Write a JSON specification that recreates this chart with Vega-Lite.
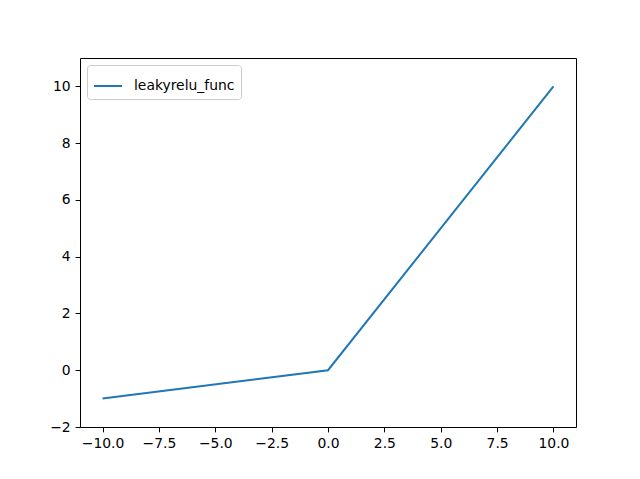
{
  "$schema": "https://vega.github.io/schema/vega-lite/v6.json",
  "width": 496,
  "height": 369,
  "autosize": {"type": "none"},
  "padding": {"left": 80, "top": 58, "right": 64, "bottom": 52},
  "background": "white",
  "config": {
    "view": {"stroke": "black", "strokeWidth": 1},
    "font": "DejaVu Sans",
    "axis": {
      "grid": false,
      "domain": false,
      "tickColor": "black",
      "tickSize": 4.9,
      "labelFontSize": 13.9,
      "labelColor": "black",
      "labelFont": "DejaVu Sans",
      "labelPadding": 4.9
    }
  },
  "data": {
    "values": [
      {"x": -10, "y": -1, "series": "leakyrelu_func"},
      {"x": 0, "y": 0, "series": "leakyrelu_func"},
      {"x": 10, "y": 10, "series": "leakyrelu_func"}
    ]
  },
  "mark": {"type": "line", "strokeWidth": 2},
  "encoding": {
    "x": {
      "field": "x",
      "type": "quantitative",
      "scale": {"domain": [-11, 11], "nice": false, "zero": false},
      "axis": {
        "title": null,
        "values": [-10, -7.5, -5, -2.5, 0, 2.5, 5, 7.5, 10],
        "labelExpr": "replace(format(datum.value, '.1f'), '-', '\u2212')"
      }
    },
    "y": {
      "field": "y",
      "type": "quantitative",
      "scale": {"domain": [-2, 11], "nice": false, "zero": false},
      "axis": {
        "title": null,
        "values": [-2, 0, 2, 4, 6, 8, 10],
        "labelExpr": "replace(format(datum.value, 'd'), '-', '\u2212')"
      }
    },
    "color": {
      "field": "series",
      "type": "nominal",
      "scale": {"range": ["#1f77b4"]},
      "legend": {
        "title": null,
        "orient": "top-left",
        "offset": 7,
        "symbolType": "stroke",
        "symbolSize": 784,
        "symbolStrokeWidth": 2,
        "labelFontSize": 13.9,
        "labelFont": "DejaVu Sans",
        "labelColor": "black",
        "labelOffset": 11,
        "strokeColor": "#cccccc",
        "fillColor": "white",
        "cornerRadius": 3,
        "padding": 6
      }
    }
  }
}
